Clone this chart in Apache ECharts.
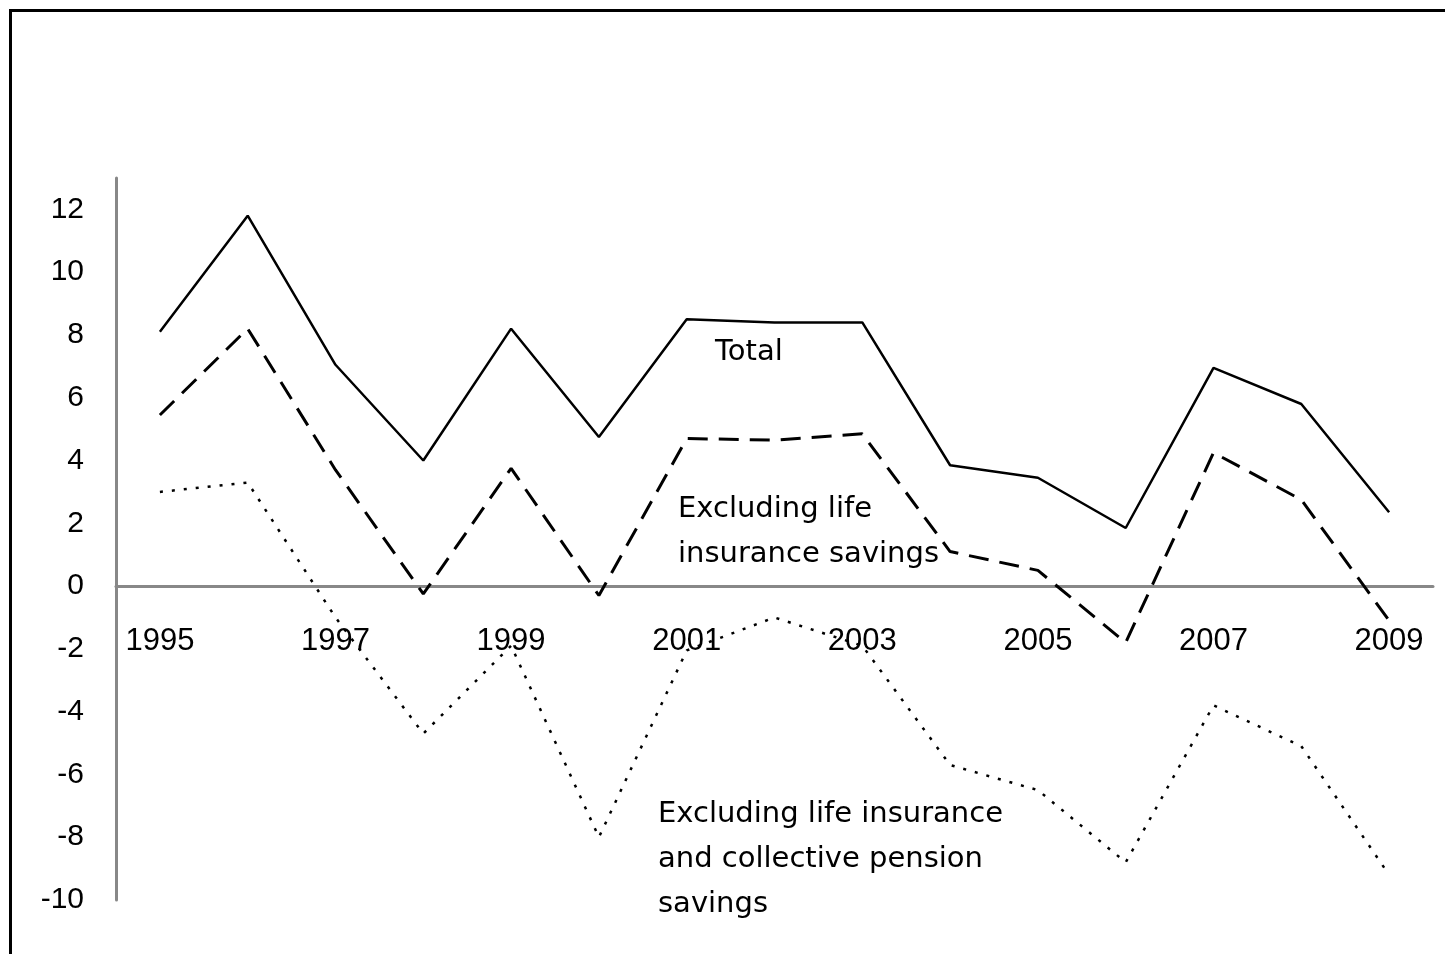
<!DOCTYPE html>
<html>
<head>
<meta charset="utf-8">
<script src="https://cdn.jsdelivr.net/npm/echarts@6/dist/echarts.min.js"></script>
<style>
  html, body { margin: 0; padding: 0; background: #fff; }
  #chart { width: 1445px; height: 954px; }
</style>
</head>
<body>
<div id="chart"></div>
<script>
const years = ["1995", "1996", "1997", "1998", "1999", "2000", "2001", "2002",
  "2003", "2004", "2005", "2006", "2007", "2008", "2009"];

// Total
const totalData = [8.1, 11.8, 7.05, 4.0, 8.2, 4.75, 8.5, 8.4, 8.4, 3.85, 3.45, 1.85, 6.95, 5.8, 2.35];
// Excluding life insurance savings
const exLifeData = [5.45, 8.2, 3.7, -0.25, 3.75, -0.3, 4.7, 4.65, 4.85, 1.1, 0.5, -1.8, 4.25, 2.75, -1.1];
// Excluding life insurance and collective pension savings
const exBothData = [3.0, 3.3, -1.0, -4.7, -1.9, -8.0, -2.05, -1.0, -1.9, -5.7, -6.5, -8.8, -3.8, -5.1, -9.2];

const yMin = -10;
const yMax = 13;

const font = "Liberation Sans";
const noteFont = "29px 'DejaVu Sans'";

const gridTop = 178;
const gridHeight = 722;
// move the category axis up to the zero line (labels follow it)
const zeroOffset = -(gridHeight * (0 - yMin)) / (yMax - yMin);

const option = {
  backgroundColor: "#fff",
  animation: false,
  grid: { left: 116, top: gridTop, width: 1317, height: gridHeight, outerBoundsMode: "none", containLabel: false },
  xAxis: {
    type: "category",
    data: years,
    boundaryGap: true,
    offset: zeroOffset,
    axisLine: { onZero: false, lineStyle: { color: "#888", width: 3 } },
    axisTick: { show: false },
    axisLabel: {
      interval: 1,
      margin: 40,
      color: "#000",
      fontFamily: font,
      fontSize: 31,
    },
  },
  yAxis: {
    type: "value",
    min: yMin,
    max: yMax,
    interval: 2,
    splitLine: { show: false },
    axisTick: { show: false },
    axisLine: { show: true, lineStyle: { color: "#888", width: 3 } },
    axisLabel: {
      showMaxLabel: false,
      margin: 32,
      color: "#000",
      fontFamily: font,
      fontSize: 30,
    },
  },
  graphic: [
    {
      type: "rect",
      shape: { x: 10.5, y: 10.5, width: 1450, height: 960 },
      style: { fill: "none", stroke: "#000", lineWidth: 3 },
    },
    {
      type: "text",
      x: 715,
      y: 338,
      style: { text: "Total", font: noteFont, fill: "#000" },
    },
    {
      type: "text",
      x: 678,
      y: 487,
      style: {
        text: "Excluding life\ninsurance savings",
        font: noteFont,
        lineHeight: 45,
        fill: "#000",
      },
    },
    {
      type: "text",
      x: 658,
      y: 792,
      style: {
        text: "Excluding life insurance\nand collective pension\nsavings",
        font: noteFont,
        lineHeight: 45,
        fill: "#000",
      },
    },
  ],
  series: [
    {
      name: "Total",
      type: "line",
      data: totalData,
      symbol: "none",
      lineStyle: { color: "#000", width: 2.5, type: "solid" },
    },
    {
      name: "Excluding life insurance savings",
      type: "line",
      data: exLifeData,
      symbol: "none",
      lineStyle: { color: "#000", width: 3, type: [20, 11] },
    },
    {
      name: "Excluding life insurance and collective pension savings",
      type: "line",
      data: exBothData,
      symbol: "none",
      lineStyle: { color: "#000", width: 2.5, type: [3, 9] },
    },
  ],
};

const myChart = echarts.init(document.getElementById("chart"));
myChart.setOption(option);
</script>
</body>
</html>
